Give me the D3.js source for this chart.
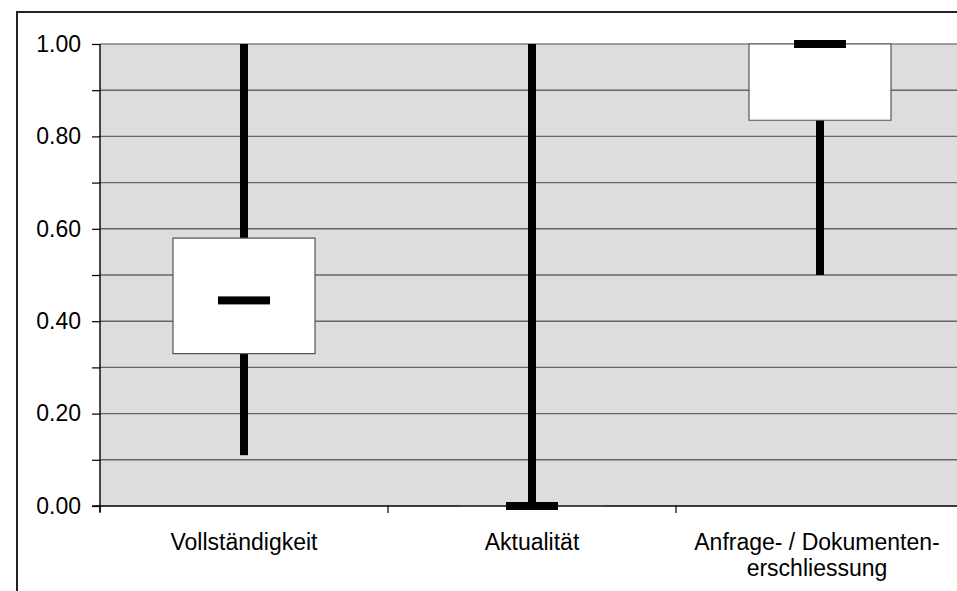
<!DOCTYPE html>
<html>
<head>
<meta charset="utf-8">
<script src="https://cdn.jsdelivr.net/npm/d3@7"></script>
<style>
  body { margin: 0; background: #fff; }
  svg { display: block; font-family: "Liberation Sans", Arial, sans-serif; }
</style>
</head>
<body>
<svg id="chart" width="957" height="591"></svg>
<script>
// Kennzahlen je Kategorie (Boxplot)
const categories = ["Vollständigkeit", "Aktualität", "Anfrage- / Dokumentenerschliessung"];
const catLabels = [["Vollständigkeit"], ["Aktualität"], ["Anfrage- / Dokumenten-", "erschliessung"]];
const minVals    = [0.11, 0.00, 0.50];
const q1Vals     = [0.33, 0.00, 0.835];
const medianVals = [0.445, 0.00, 1.00];
const q3Vals     = [0.58, 0.00, 1.00];
const maxVals    = [1.00, 1.00, 1.00];
const yTicks = [0, 0.1, 0.2, 0.3, 0.4, 0.5, 0.6, 0.7, 0.8, 0.9, 1.0];

const svg = d3.select('#chart');
const pLeft = 100, pTop = 44, pBottom = 506, pRight = 964;
const fontSize = 23;

const x = d3.scaleBand().domain(categories).range([pLeft, pRight]).padding(0);
const y = d3.scaleLinear().domain([0, 1]).range([pBottom, pTop]);

// Rahmen
svg.append('line').attr('x1', 17).attr('x2', 957).attr('y1', 12).attr('y2', 12)
  .attr('stroke', '#222').attr('stroke-width', 2);
svg.append('line').attr('x1', 17).attr('x2', 17).attr('y1', 11).attr('y2', 591)
  .attr('stroke', '#222').attr('stroke-width', 2);

// Plotfläche
svg.append('rect').attr('x', pLeft).attr('y', pTop)
  .attr('width', pRight - pLeft).attr('height', pBottom - pTop).attr('fill', '#dddddd');

// Gitterlinien
svg.append('g').selectAll('line').data(yTicks.filter(d => d > 0))
  .join('line')
  .attr('x1', pLeft).attr('x2', pRight)
  .attr('y1', d => y(d)).attr('y2', d => y(d))
  .attr('stroke', d => d === 1 ? '#808080' : '#666').attr('stroke-width', 1.4);

// Y-Achse
const yAxis = svg.append('g').attr('transform', `translate(${pLeft},0)`)
  .call(d3.axisLeft(y).tickValues(yTicks).tickSize(8).tickPadding(11)
    .tickFormat(d => (Math.round(d * 10) % 2 === 0) ? d.toFixed(2) : ''));
yAxis.attr('font-size', fontSize).attr('font-family', '"Liberation Sans", Arial, sans-serif');
yAxis.select('.domain').attr('d', `M0,${pTop}V${pBottom + 6}`).attr('stroke', '#000').attr('stroke-width', 1.4);
yAxis.selectAll('.tick line').attr('stroke', '#000').attr('stroke-width', 1.2);
yAxis.selectAll('.tick text').attr('fill', '#000');

// X-Achse
const xg = svg.append('g');
xg.append('line').attr('x1', pLeft - 8).attr('x2', pRight).attr('y1', pBottom).attr('y2', pBottom)
  .attr('stroke', '#000').attr('stroke-width', 1.6);
const bounds = categories.map(c => x(c)).concat([pRight]);
xg.selectAll('.xtick').data(bounds)
  .join('line').attr('class', 'xtick')
  .attr('x1', d => d).attr('x2', d => d)
  .attr('y1', pBottom).attr('y2', pBottom + 7)
  .attr('stroke', '#000').attr('stroke-width', 1.2);
xg.selectAll('.xlabel').data(categories)
  .join('text').attr('class', 'xlabel')
  .attr('x', d => x(d) + x.bandwidth() / 2)
  .attr('y', 550)
  .attr('text-anchor', 'middle').attr('font-size', fontSize).attr('fill', '#000')
  .each(function(d, i) {
    d3.select(this).selectAll('tspan').data(catLabels[i]).join('tspan')
      .attr('x', x(d) + x.bandwidth() / 2 - (catLabels[i].length > 1 ? 3 : 0))
      .attr('dy', (t, j) => j === 0 ? 0 : 26)
      .text(t => t);
  });

// Boxplots
const rows = categories.map((c, i) => ({
  cat: c, min: minVals[i], q1: q1Vals[i], med: medianVals[i], q3: q3Vals[i], max: maxVals[i]
}));
const boxW = 142, medW = 52, whW = 8;
const cx = d => x(d.cat) + x.bandwidth() / 2;

const nodes = svg.append('g').selectAll('g').data(rows).join('g');
nodes.append('rect')
  .attr('x', d => cx(d) - whW / 2)
  .attr('y', d => y(d.max))
  .attr('width', whW)
  .attr('height', d => y(d.min) - y(d.max))
  .attr('fill', '#000');
// Box als Pfad, damit auch eine Box mit Höhe 0 als Linie sichtbar bleibt
nodes.append('path')
  .attr('d', d => {
    const x0 = cx(d) - boxW / 2, x1 = cx(d) + boxW / 2;
    return `M${x0},${y(d.q3)}H${x1}V${y(d.q1)}H${x0}Z`;
  })
  .attr('fill', '#fff').attr('stroke', '#555').attr('stroke-width', 1.2);
nodes.append('rect')
  .attr('x', d => cx(d) - medW / 2)
  .attr('y', d => y(d.med) - 4)
  .attr('width', medW).attr('height', 8)
  .attr('fill', '#000');
</script>
</body>
</html>
